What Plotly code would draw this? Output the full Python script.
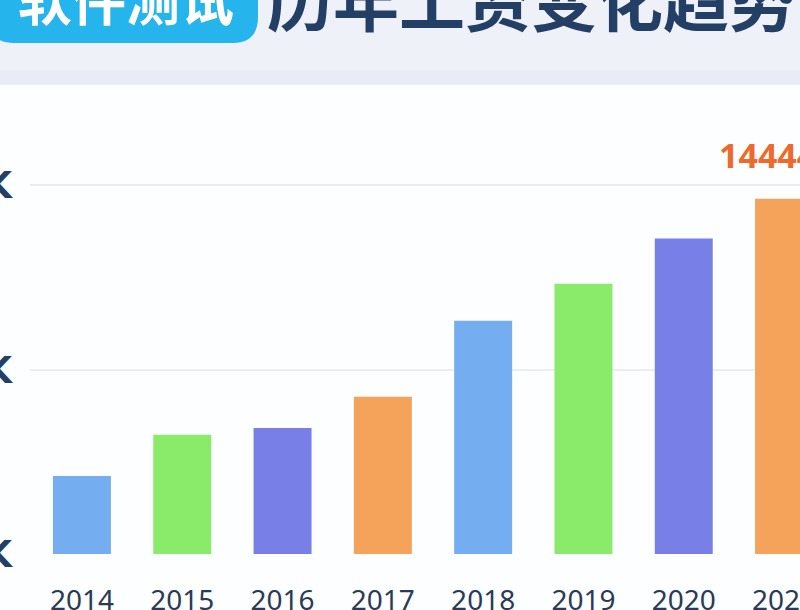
import plotly.graph_objects as go

# data (values in yuan)
years = ["2014", "2015", "2016", "2017", "2018", "2019", "2020", "2021"]
salary = [3170, 4850, 5120, 6390, 9480, 10990, 12830, 14444]
bar_colors = ["#75AEF0", "#8AEB6B", "#7880E8", "#F5A35A"] * 2
tick_vals = [0, 7500, 15000]
tick_text = ["0K", "7.5K", "15K"]

W, H = 800, 610
ML, MR, MT, MB = 30, 0, 130, 56
PW, PH = W - ML - MR, H - MT - MB


def px(x):
    # figure pixel -> paper x
    return (x - ML) / PW


def py(y):
    # figure pixel (from top) -> paper y
    return (H - MB - y) / PH


fig = go.Figure()
fig.add_trace(go.Bar(
    x=list(range(len(years))), y=salary,
    marker=dict(color=bar_colors, line=dict(width=0)),
    width=0.578, hoverinfo="skip",
))

# top banner background
shapes = [
    dict(type="rect", xref="paper", yref="paper", x0=px(-5), x1=px(805),
         y0=py(85), y1=py(-5), fillcolor="#EFF1F8", line=dict(width=0), layer="below"),
    dict(type="rect", xref="paper", yref="paper", x0=px(-5), x1=px(805),
         y0=py(84), y1=py(70), fillcolor="#E9ECF4", line=dict(width=0), layer="below"),
]
# cyan pill behind "软件测试" (rounded bottom corners)
r = 26
x0, x1, y0, y1 = -12, 258, -40, 43
path = (f"M {px(x0 + r)},{py(y1)} L {px(x1 - r)},{py(y1)} "
        f"Q {px(x1)},{py(y1)} {px(x1)},{py(y1 - r)} "
        f"L {px(x1)},{py(y0)} L {px(x0)},{py(y0)} "
        f"L {px(x0)},{py(y1 - r)} Q {px(x0)},{py(y1)} {px(x0 + r)},{py(y1)} Z")
shapes.append(dict(type="path", xref="paper", yref="paper", path=path,
                   fillcolor="#26B4EC", line=dict(width=0), layer="below"))

annotations = [
    dict(xref="paper", yref="paper", x=px(126), y=py(-3), text="软件测试",
         showarrow=False, xanchor="center", yanchor="middle",
         font=dict(family="Noto Sans CJK SC", size=54, color="white", weight="bold")),
    dict(xref="paper", yref="paper", x=px(265), y=py(-3), text="历年工资变化趋势",
         showarrow=False, xanchor="left", yanchor="middle",
         font=dict(family="Noto Sans CJK SC", size=66, color="#243F66", weight="bold")),
    dict(x=7, y=salary[-1], text=f"{salary[-1]}", showarrow=False,
         xanchor="center", yanchor="middle", yshift=44, xshift=-17,
         font=dict(family="Noto Sans", size=34, color="#EE6A2C", weight="bold")),
]

fig.update_layout(
    width=W, height=H,
    margin=dict(l=ML, r=MR, t=MT, b=MB, pad=0, autoexpand=False),
    paper_bgcolor="#FDFEFF", plot_bgcolor="#FDFEFF",
    showlegend=False,
    shapes=shapes, annotations=annotations,
    xaxis=dict(
        range=[-0.518, 7.159], tickmode="array",
        tickvals=list(range(len(years))), ticktext=years,
        showgrid=False, zeroline=False, showline=False, ticks="",
        automargin=False, ticklabelstandoff=27, ticklabeloverflow="allow",
        tickfont=dict(family="Noto Sans", size=28, color="#2B3A55"),
    ),
    yaxis=dict(
        range=[0, 15000 * PH / 369], tickmode="array",
        tickvals=tick_vals, ticktext=tick_text,
        showgrid=True, gridcolor="#EAEDF2", gridwidth=2,
        zeroline=False, showline=False, ticks="",
        automargin=False, ticklabelstandoff=17, ticklabeloverflow="allow",
        tickfont=dict(family="DejaVu Sans Condensed, Noto Sans", size=38,
                      color="#243F66", weight="bold"),
    ),
)

# drop the default page margin so the figure sits at the window's corner
fig.write_html("out.html", config={"displayModeBar": False},
               post_script="document.body.style.margin='0';")
